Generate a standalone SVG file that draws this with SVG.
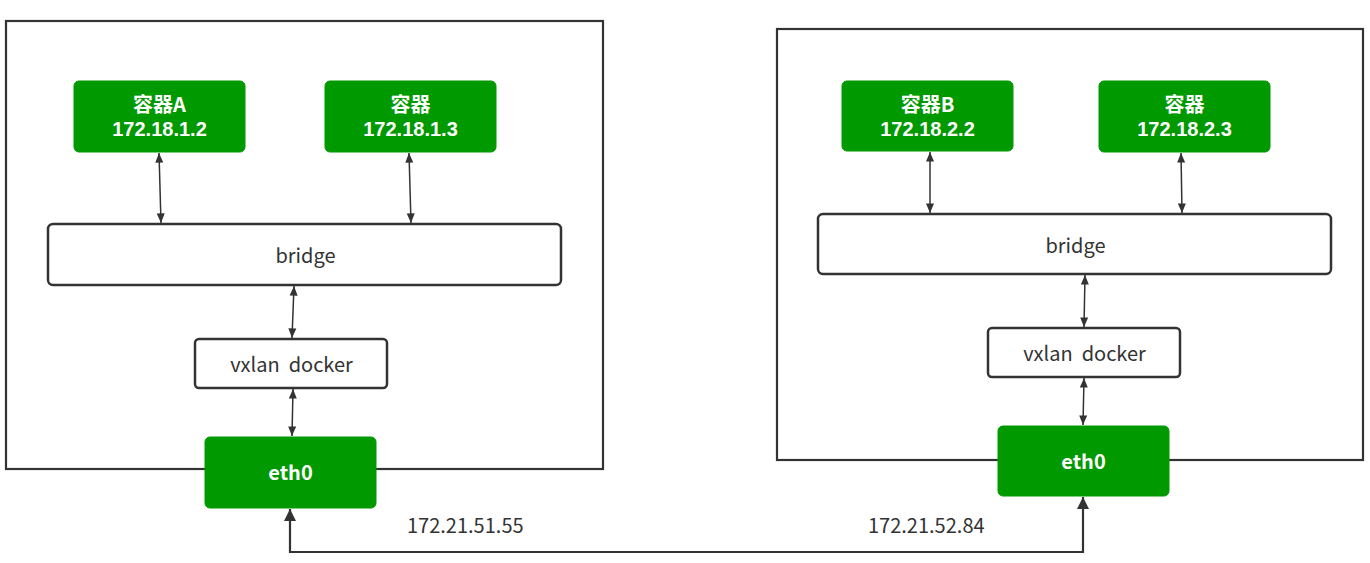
<svg xmlns="http://www.w3.org/2000/svg" width="1370" height="563" viewBox="0 0 1370 563">
<style>
.host{fill:#fff;stroke:#333;stroke-width:2.2}
.g{fill:#009900;stroke:#009900}
.w{fill:#fff;stroke:#333;stroke-width:2.5}
.gt{font-family:"Noto Sans CJK SC","Microsoft YaHei",sans-serif;font-weight:bold;font-size:20px;fill:#fff;text-anchor:middle}
.gn{font-family:"Liberation Sans",Arial,sans-serif;font-weight:bold;font-size:20px;fill:#fff;text-anchor:middle}
.t{font-family:"Noto Sans CJK SC","Microsoft YaHei",sans-serif;font-size:20px;fill:#333;text-anchor:middle;white-space:pre}
.lbl{font-family:"Noto Sans CJK SC","Microsoft YaHei",sans-serif;font-size:20px;fill:#333}
.c{fill:none;stroke:#333;stroke-width:1.5}
.c2{fill:none;stroke:#333;stroke-width:2.2}
</style>
<defs>
<marker id="a" viewBox="0 0 10 10" refX="10" refY="5" markerWidth="8" markerHeight="8" markerUnits="userSpaceOnUse" orient="auto-start-reverse" overflow="visible">
<path d="M0,0 L10,5 L0,10 Z" fill="#333" transform="scale(1.2,1) translate(-1.6,0)"/>
</marker>
<marker id="b" viewBox="0 0 12 12" refX="12" refY="6" markerWidth="12" markerHeight="12" markerUnits="userSpaceOnUse" orient="auto-start-reverse">
<path d="M0,0 L12,6 L0,12 Z" fill="#333"/>
</marker>
</defs>
<g id="hostA"><rect class="host" x="6" y="21" width="597" height="448"/></g>
<g id="hostB"><rect class="host" x="777" y="29" width="586" height="431"/></g>
<g id="containerA"><rect class="g" x="74" y="81" width="171" height="71" rx="5"/><text class="gt" x="159.5" y="112">容器A</text><text class="gn" x="159.5" y="136">172.18.1.2</text></g>
<g id="container13"><rect class="g" x="325" y="81" width="171" height="71" rx="5"/><text class="gt" x="410.5" y="112">容器</text><text class="gn" x="410.5" y="136">172.18.1.3</text></g>
<g id="bridgeA"><rect class="w" x="48" y="224" width="513" height="61" rx="5"/><text class="t" x="305.5" y="263">bridge</text></g>
<g id="vxlanA"><rect class="w" x="195" y="339" width="192" height="49" rx="4"/><text class="t" x="291.5" y="372">vxlan&#160; docker</text></g>
<g id="eth0A"><rect class="g" x="205" y="437" width="171" height="71" rx="5"/><text class="gt" x="290.5" y="480">eth0</text></g>
<g id="containerB"><rect class="g" x="842" y="81" width="171" height="70" rx="5"/><text class="gt" x="927.5" y="112">容器B</text><text class="gn" x="927.5" y="136">172.18.2.2</text></g>
<g id="container23"><rect class="g" x="1099" y="81" width="171" height="71" rx="5"/><text class="gt" x="1184.5" y="112">容器</text><text class="gn" x="1184.5" y="136">172.18.2.3</text></g>
<g id="bridgeB"><rect class="w" x="818" y="214" width="513" height="60" rx="5"/><text class="t" x="1075.5" y="253">bridge</text></g>
<g id="vxlanB"><rect class="w" x="988" y="328" width="192" height="49" rx="4"/><text class="t" x="1084.5" y="361">vxlan&#160; docker</text></g>
<g id="eth0B"><rect class="g" x="998" y="426" width="171" height="70" rx="5"/><text class="gt" x="1083.5" y="469">eth0</text></g>
<g id="connectors">
<path class="c" d="M159,153 L161,223" marker-start="url(#a)" marker-end="url(#a)"/>
<path class="c" d="M409,153 L411,223" marker-start="url(#a)" marker-end="url(#a)"/>
<path class="c" d="M294,286 L292,338" marker-start="url(#a)" marker-end="url(#a)"/>
<path class="c" d="M293,389 L292,436" marker-start="url(#a)" marker-end="url(#a)"/>
<path class="c" d="M930,152 L930,213" marker-start="url(#a)" marker-end="url(#a)"/>
<path class="c" d="M1181,153 L1182,213" marker-start="url(#a)" marker-end="url(#a)"/>
<path class="c" d="M1085,275 L1084,327" marker-start="url(#a)" marker-end="url(#a)"/>
<path class="c" d="M1084,378 L1083,425" marker-start="url(#a)" marker-end="url(#a)"/>
<path class="c2" d="M290,509 L290,552 L1083,552 L1083,497" marker-start="url(#b)" marker-end="url(#b)"/>
</g>
<text class="lbl" x="407" y="533">172.21.51.55</text>
<text class="lbl" x="868" y="533">172.21.52.84</text>
</svg>
